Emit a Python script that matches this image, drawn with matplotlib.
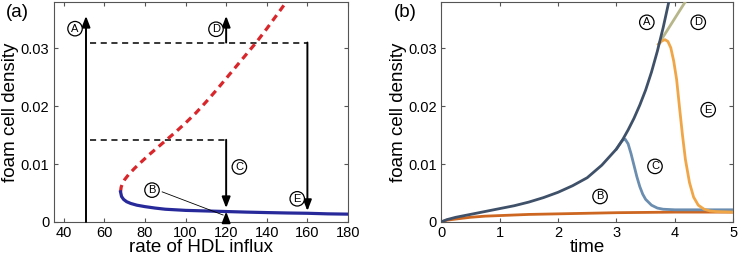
import numpy as np
import matplotlib
matplotlib.use('Agg')
import matplotlib.pyplot as plt

plt.rcParams['font.family'] = ['Liberation Sans', 'DejaVu Sans']

# (a) bifurcation diagram: foam cell density vs HDL influx
hdl_stable = [68, 68.5, 69.5, 71, 73, 76, 80, 85, 90, 95, 100, 110, 120, 130, 140, 150, 160, 170, 180]
dens_stable = [0.0052, 0.0044, 0.0039, 0.0035, 0.0032, 0.0029, 0.00265, 0.0024, 0.0022, 0.0021,
               0.0020, 0.0019, 0.0018, 0.0017, 0.00162, 0.00155, 0.0015, 0.0014, 0.00135]
hdl_unstable = [68, 68.3, 69, 70, 72, 75, 78, 82, 86, 90, 95, 100, 105, 110, 115, 120, 125, 130,
                135, 140, 145, 150, 152]
dens_unstable = [0.0052, 0.0060, 0.0067, 0.0073, 0.0082, 0.0093, 0.0103, 0.0116, 0.0128, 0.0140,
                 0.0155, 0.0171, 0.0188, 0.0207, 0.0227, 0.0248, 0.0269, 0.0290, 0.0311, 0.0334,
                 0.0358, 0.0382, 0.0392]

# jumps in panel (a)
hdl_A, hdl_C, hdl_D, hdl_E = 51, 120, 120, 160
level_C, level_DE = 0.0142, 0.031
top_arrow = 0.0356

# (b) time courses
t_A = [0, 0.1, 0.25, 0.5, 0.75, 1, 1.25, 1.5, 1.75, 2, 2.25, 2.5, 2.75, 3, 3.1, 3.2, 3.3,
       3.4, 3.5, 3.6, 3.7, 3.8, 3.9, 4.0]
y_A = [0, 0.0004, 0.0008, 0.0013, 0.0018, 0.0023, 0.0028, 0.00343, 0.0042, 0.00512, 0.00626,
       0.00764, 0.00981, 0.0126, 0.0141, 0.0159, 0.0179, 0.0202, 0.0228, 0.0259, 0.0295,
       0.0336, 0.0382, 0.0435]
t_B = [0, 0.1, 0.25, 0.5, 0.75, 1, 1.5, 2, 2.5, 3, 3.5, 4, 4.5, 5]
y_B = [0, 0.0003, 0.0005, 0.0008, 0.0010, 0.0011, 0.0013, 0.0014, 0.0015, 0.0016, 0.00165,
       0.0017, 0.0017, 0.0017]
t_C = [3.0, 3.1, 3.15, 3.2, 3.25, 3.3, 3.35, 3.4, 3.45, 3.5, 3.6, 3.7, 3.8, 4.0, 4.5, 5.0]
y_C = [0.0126, 0.0141, 0.0143, 0.0135, 0.0118, 0.0098, 0.0078, 0.0061, 0.0048, 0.0039,
       0.0029, 0.0024, 0.0022, 0.0021, 0.0021, 0.0021]
t_D = [3.72, 3.8, 3.9, 4.0, 4.1, 4.2, 4.25]
y_D = [0.0307, 0.0320, 0.0336, 0.0352, 0.0368, 0.0384, 0.0392]
t_E = [3.72, 3.78, 3.83, 3.88, 3.93, 3.98, 4.03, 4.08, 4.13, 4.18, 4.25, 4.32, 4.4, 4.5,
       4.6, 4.7, 5.0]
y_E = [0.0307, 0.0313, 0.0315, 0.0312, 0.0301, 0.0278, 0.0246, 0.0197, 0.0150, 0.0108,
       0.0068, 0.0043, 0.0029, 0.0022, 0.0019, 0.0018, 0.0017]

fig = plt.figure(figsize=(7.4, 2.56), dpi=100)
ax1 = fig.add_axes([0.0723, 0.133, 0.398, 0.859])
ax2 = fig.add_axes([0.596, 0.133, 0.395, 0.859])

circ = dict(boxstyle='circle,pad=0.2', fc='white', ec='black', lw=0.9)

def label(ax, x, y, s):
    ax.text(x, y, s, fontsize=8, ha='center', va='center', bbox=circ, zorder=6)

def arrow(ax, x, y0, y1):
    ax.annotate('', xy=(x, y1), xytext=(x, y0),
                arrowprops=dict(arrowstyle='-|>,head_length=0.65,head_width=0.25',
                                color='black', lw=1.4, shrinkA=0, shrinkB=0))

# panel (a)
ax1.plot(hdl_unstable, dens_unstable, color='#d8262b', lw=2.3, ls=(0, (2.2, 1.6)), zorder=3)
ax1.plot(hdl_stable, dens_stable, color='#27299a', lw=2.3, zorder=3)
ax1.plot([hdl_A + 2, hdl_E], [level_DE, level_DE], color='black', lw=1.1, ls=(0, (4, 3)))
ax1.plot([hdl_A + 2, hdl_C], [level_C, level_C], color='black', lw=1.1, ls=(0, (4, 3)))
arrow(ax1, hdl_A, 0, top_arrow)
arrow(ax1, hdl_D, level_DE, top_arrow)
arrow(ax1, hdl_E, level_DE, 0.0019)
arrow(ax1, hdl_C, level_C, 0.0024)
arrow(ax1, hdl_C, 0, 0.0018)
ax1.plot([88.5, 118.5], [0.0052, 0.0012], color='black', lw=0.6, zorder=4)
label(ax1, 45.6, 0.0334, 'A')
label(ax1, 83.5, 0.0055, 'B')
label(ax1, 126.5, 0.0095, 'C')
label(ax1, 115, 0.0333, 'D')
label(ax1, 155, 0.0040, 'E')
ax1.set_xlim(35, 180)
ax1.set_xticks([40, 60, 80, 100, 120, 140, 160, 180])
ax1.set_xlabel('rate of HDL influx', fontsize=13.5, labelpad=-1)

# panel (b)
ax2.plot(t_B, y_B, color='#cc6620', lw=2.0, zorder=3)
ax2.plot(t_C, y_C, color='#6a8db0', lw=2.0, zorder=3)
ax2.plot(t_D, y_D, color='#b7b68a', lw=2.0, zorder=3)
ax2.plot(t_E, y_E, color='#f0a646', lw=2.0, zorder=3)
ax2.plot(t_A, y_A, color='#3f5069', lw=2.0, zorder=4)
label(ax2, 3.52, 0.0345, 'A')
label(ax2, 2.72, 0.0044, 'B')
label(ax2, 3.66, 0.0096, 'C')
label(ax2, 4.40, 0.0345, 'D')
label(ax2, 4.57, 0.0194, 'E')
ax2.set_xlim(0, 5)
ax2.set_xticks([0, 1, 2, 3, 4, 5])
ax2.set_xlabel('time', fontsize=13.5, labelpad=-1)

for ax, tag in ((ax1, '(a)'), (ax2, '(b)')):
    ax.set_ylim(0, 0.038)
    ax.set_yticks([0, 0.01, 0.02, 0.03])
    ax.set_yticklabels(['0', '0.01', '0.02', '0.03'])
    ax.set_ylabel('foam cell density', fontsize=13.5, labelpad=1)
    ax.tick_params(direction='in', top=True, right=True, labelsize=10.5, length=3,
                   color='#555555', pad=3)
    for sp in ax.spines.values():
        sp.set_color('#555555')
        sp.set_linewidth(0.8)
    fig.text(ax.get_position().x0 - 0.064, 0.985, tag, fontsize=13.5, va='top', ha='left')

fig.savefig('out.png', dpi=100)
